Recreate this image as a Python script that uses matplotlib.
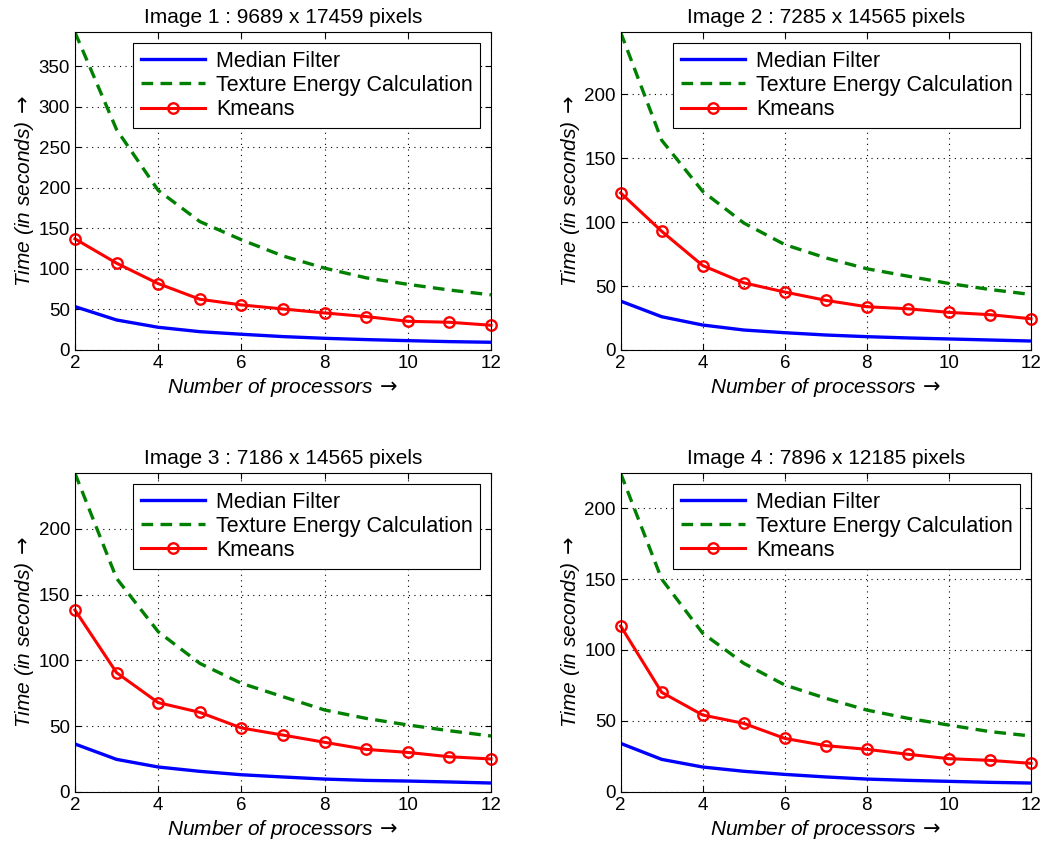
import numpy as np
import matplotlib
matplotlib.use("Agg")
import matplotlib.pyplot as plt

plt.rcParams['font.family'] = ['Liberation Sans', 'DejaVu Sans']

processors = [2, 3, 4, 5, 6, 7, 8, 9, 10, 11, 12]

titles = ["Image 1 : 9689 x 17459 pixels",
          "Image 2 : 7285 x 14565 pixels",
          "Image 3 : 7186 x 14565 pixels",
          "Image 4 : 7896 x 12185 pixels"]

# Median filter timings
median1 = [53.5, 37, 28, 22.6, 19.4, 16.5, 14.4, 12.8, 11.5, 10.3, 9.5]
median2 = [38.2, 26, 19.5, 15.6, 13.5, 11.7, 10.4, 9.4, 8.6, 7.8, 7.0]
median3 = [36.3, 24.6, 18.8, 15.5, 12.9, 11.2, 9.6, 8.6, 8.1, 7.4, 6.6]
median4 = [34.1, 22.8, 17.4, 14.4, 12.2, 10.4, 8.9, 8.0, 7.3, 6.6, 6.1]

# Texture energy calculation timings
texture1 = [392, 272, 197, 158.5, 136, 116, 101, 89, 81, 74, 68]
texture2 = [248.4, 164, 124, 99.3, 82.4, 72, 63.5, 57.7, 52, 47.3, 43.4]
texture3 = [242.4, 162.4, 121.8, 97.7, 82.5, 72.3, 62.2, 55.8, 50.8, 46.4, 42.4]
texture4 = [224.7, 150, 111.8, 90.6, 75.3, 65.9, 57.6, 51.8, 47, 42.4, 39.3]

# Kmeans timings
kmeans1 = [137.1, 107.1, 81.9, 62.6, 55.6, 50.6, 45.7, 41.2, 35.4, 34.2, 30.5]
kmeans2 = [122.8, 92.8, 66, 52.5, 45.3, 38.8, 33.8, 32.2, 29.4, 27.6, 24.4]
kmeans3 = [138.3, 90.6, 67.8, 60.4, 48.5, 43.1, 37.6, 32.2, 29.9, 26.6, 24.9]
kmeans4 = [116.9, 70.1, 54.1, 48.2, 37.6, 32.5, 29.9, 26.4, 23.3, 22.1, 20.0]

medians = [median1, median2, median3, median4]
textures = [texture1, texture2, texture3, texture4]
kmeans = [kmeans1, kmeans2, kmeans3, kmeans4]
ytick_tops = [350, 200, 200, 200]

fig = plt.figure(figsize=(10.5, 8.48), dpi=100)
positions = [[0.0714, 0.5873, 0.3962, 0.3746],
             [0.5911, 0.5873, 0.3908, 0.3746],
             [0.0714, 0.0664, 0.3962, 0.3755],
             [0.5911, 0.0664, 0.3908, 0.3755]]

for i in range(4):
    ax = fig.add_axes(positions[i])
    ax.plot(processors, medians[i], color=(0, 0, 1), lw=2.4, label="Median Filter")
    ax.plot(processors, textures[i], color=(0, 0.5, 0), lw=2.4, dashes=(3.5, 2.2),
            label="Texture Energy Calculation")
    ax.plot(processors, kmeans[i], color=(1, 0, 0), lw=2.2, marker='o', ms=7.5,
            mfc='none', mew=1.7, label="Kmeans", clip_on=False)
    ax.set_xlim(2, 12)
    ax.set_ylim(0, max(textures[i]))
    ax.set_xticks(range(2, 13, 2))
    ax.set_yticks(range(0, ytick_tops[i] + 1, 50))
    ax.grid(True, color='black', linestyle=(0, (1, 4)), linewidth=0.8)
    ax.tick_params(direction='in', top=True, right=True, labelsize=13.5, length=4)
    for s in ax.spines.values():
        s.set_linewidth(0.8)
    ax.set_title(titles[i], fontsize=15, pad=7)
    ax.set_xlabel(r"Number of processors$\,\rightarrow$", fontsize=15, style='italic', labelpad=3)
    ax.set_ylabel(r"Time (in seconds)$\,\rightarrow$", fontsize=15, style='italic', labelpad=2)
    leg = ax.legend(loc='upper right', fontsize=15.5, handlelength=3.0, fancybox=False,
                    framealpha=1, edgecolor='black', borderaxespad=0.5, labelspacing=0.15,
                    borderpad=0.35, handletextpad=0.5)
    leg.get_frame().set_linewidth(0.8)

fig.savefig("out.png", dpi=100)
